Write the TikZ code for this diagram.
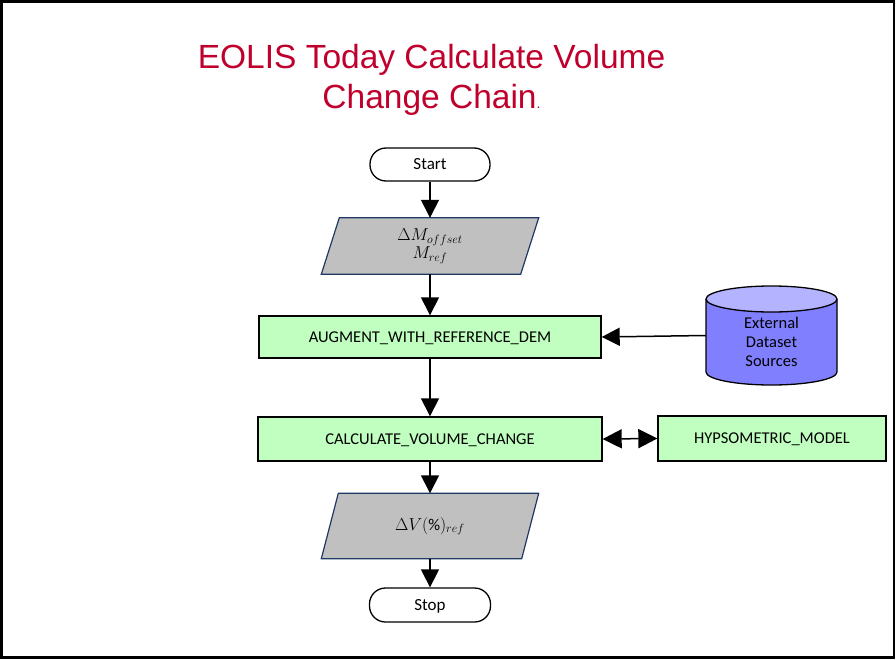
\documentclass[tikz,border=0pt]{standalone}
\usepackage{fontspec}
\setmainfont{Carlito}
\newfontfamily\titlefont{Liberation Sans}
\usetikzlibrary{arrows.meta,calc}
\definecolor{titlered}{RGB}{192,0,44}
\definecolor{boxgreen}{RGB}{192,255,192}
\definecolor{iogray}{RGB}{192,192,192}
\definecolor{ioborder}{RGB}{31,56,100}
\definecolor{cylbody}{RGB}{128,128,255}
\definecolor{cyltop}{RGB}{179,179,255}
\begin{document}
\begin{tikzpicture}[x=1pt,y=-1pt,
  lbl/.style={font=\fontsize{16.5}{19}\selectfont},
  terminal/.style={draw, line width=1.3pt, rounded corners=16pt, fill=white, inner sep=0pt, font=\fontsize{17}{19}\selectfont, text height=10.9pt, text depth=0.5pt},
  procbox/.style={draw, line width=1.4pt, fill=boxgreen, inner sep=0pt, lbl, text height=10.6pt, text depth=0pt},
  iobox/.style={inner sep=0pt, font=\fontsize{16.5}{19}\selectfont},
  iopoly/.style={draw=ioborder, line width=1.2pt, fill=iogray},
  arr/.style={line width=1.5pt, -{Triangle[width=18pt,length=18pt]}},
  darr/.style={line width=1.5pt, {Triangle[width=19pt,length=19pt]}-{Triangle[width=19pt,length=19pt]}},
]
\useasboundingbox (0,0) rectangle (896,660);
\draw[line width=2.5pt] (1.5,1.5) rectangle (894,657.5);

\node[text=titlered, align=center, font=\titlefont\fontsize{33.5}{40}\selectfont] (title) at (431.5,80)
  {EOLIS Today Calculate Volume\\Change Chain{\fontsize{14}{14}\selectfont .}};

\node[terminal, minimum width=120, minimum height=33] (start) at (430,164.5) {Start};

\node[iobox, minimum width=217, minimum height=56] (p1) at (430,246) {};
\draw[iopoly] ($(p1.north west)+(18,0)$) -- (p1.north east) -- ($(p1.south east)+(-18,0)$) -- (p1.south west) -- cycle;
\node[iobox, align=center] (p1t) at (p1.center) {$\Delta M_{offset}$\\[-1pt]$M_{ref}$};

\node[procbox, minimum width=342, minimum height=42] (aug) at (430,337) {AUGMENT\_WITH\_REFERENCE\_DEM};

\node[inner sep=0pt, minimum width=131, minimum height=99] (cyl) at (771.5,335.5) {};
\fill[cylbody] (706,299) -- (706,372) arc[start angle=180, end angle=360, x radius=65.5, y radius=-13] -- (837,299) -- cycle;
\draw[line width=1.3pt] (706,299) -- (706,372) arc[start angle=180, end angle=360, x radius=65.5, y radius=-13] -- (837,299);
\draw[line width=1.3pt, fill=cyltop] (771.5,299) ellipse[x radius=65.5, y radius=13];
\node[align=center, font=\fontsize{16.5}{19}\selectfont] (cyltext) at (771.5,342) {External\\Dataset\\Sources};

\node[procbox, minimum width=344, minimum height=44] (calc) at (430,439) {CALCULATE\_VOLUME\_CHANGE};
\node[procbox, minimum width=228, minimum height=45] (hyp) at (772,438.5) {HYPSOMETRIC\_MODEL};

\node[iobox, minimum width=217, minimum height=65] (p2) at (430,526) {};
\draw[iopoly] ($(p2.north west)+(17,0)$) -- (p2.north east) -- ($(p2.south east)+(-17,0)$) -- (p2.south west) -- cycle;
\node[iobox] (p2t) at (p2.center) {$\Delta V(\%)_{ref}$};

\node[terminal, minimum width=121, minimum height=34] (stop) at (430,605) {Stop};

\draw[arr] (start.south) -- (p1.north);
\draw[arr] (p1.south) -- (aug.north);
\draw[arr] (cyl.west) -- (aug.east);
\draw[arr] (aug.south) -- (calc.north);
\draw[darr] (calc.east) -- (hyp.west);
\draw[arr] (calc.south) -- (p2.north);
\draw[arr] (p2.south) -- (stop.north);
\end{tikzpicture}
\end{document}
